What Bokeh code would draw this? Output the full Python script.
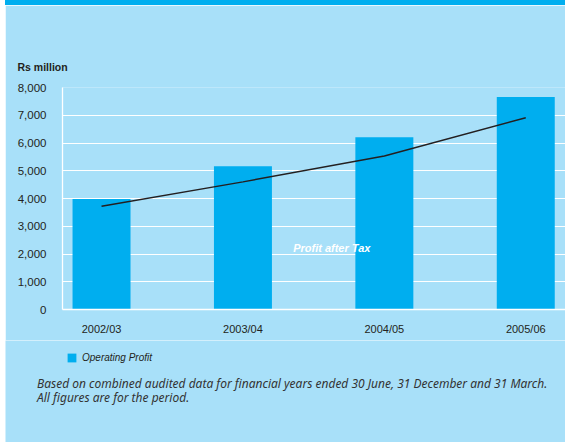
from bokeh.plotting import figure
from bokeh.models import (Range1d, FixedTicker, NumeralTickFormatter, Label,
                          Legend, LegendItem, Title, Spacer)
from bokeh.layouts import column
from bokeh.embed import file_html
from bokeh.resources import INLINE

# ---- data ----
categories = ["2002/03", "2003/04", "2004/05", "2005/06"]
operating_profit = [3980, 5160, 6210, 7660]
profit_after_tax = [3720, 4600, 5530, 6910]
y_ticks = [0, 1000, 2000, 3000, 4000, 5000, 6000, 7000, 8000]
legend_label = "Operating Profit"
line_label = "Profit after Tax"
unit_label = "Rs million"
foot1 = "Based on combined audited data for financial years ended 30 June, 31 December and 31 March."
foot2 = "All figures are for the period."

BG = "#a8e0f9"
BAR = "#00aeef"
INK = "#231f20"

xs = list(range(len(categories)))

W = 560
H1, H2 = 335, 102

# ---------------- main chart ----------------
p = figure(width=W, height=H1, output_backend="svg", toolbar_location=None,
           x_range=Range1d(-0.276, 3.281), y_range=Range1d(0, 8000),
           min_border_left=57, min_border_right=0, min_border_top=82,
           min_border_bottom=31, background_fill_color=BG,
           border_fill_color=BG, outline_line_color=None)
p.margin = (0, 0, 0, 0)
p.frame_align = False

bars = p.vbar(x=xs, top=operating_profit, width=0.41, color=BAR, line_color=None)
p.line(x=xs, y=profit_after_tax, line_color=INK, line_width=1.4)

p.xaxis.ticker = FixedTicker(ticks=xs)
p.xaxis.major_label_overrides = {i: c for i, c in zip(xs, categories)}
p.yaxis.ticker = FixedTicker(ticks=y_ticks)
p.yaxis.formatter = NumeralTickFormatter(format="0,0")
for ax in (p.xaxis, p.yaxis):
    ax.axis_line_color = "white"
    ax.axis_line_width = 1.3
    ax.major_tick_line_color = None
    ax.minor_tick_line_color = None
    ax.major_tick_out = 0
    ax.major_tick_in = 0
    ax.major_label_text_font = "Liberation Sans"
    ax.major_label_text_color = INK
p.xaxis.major_label_text_font_size = "11px"
p.yaxis.major_label_text_font_size = "11.5px"
p.xaxis.major_label_standoff = 13
p.yaxis.major_label_standoff = 16

p.xgrid.grid_line_color = None
p.ygrid.ticker = FixedTicker(ticks=y_ticks)
p.ygrid.grid_line_color = "white"
p.ygrid.grid_line_width = 1

p.add_layout(Title(text=unit_label, align="left", offset=-45, standoff=29,
                   text_font="Liberation Sans", text_font_style="bold",
                   text_font_size="10.5px", text_color=INK), "above")

p.add_layout(Label(x=1.355, y=2200, text=line_label,
                   text_font="Liberation Sans", text_font_style="bold italic",
                   text_font_size="11px", text_color="white", text_baseline="middle"))

# ---------------- legend + notes strip ----------------
q = figure(width=W, height=H2, output_backend="svg", toolbar_location=None,
           x_range=Range1d(0, W), y_range=Range1d(0, H2),
           x_axis_type=None, y_axis_type=None,
           min_border_left=0, min_border_right=0, min_border_top=0,
           min_border_bottom=0, background_fill_color=BG,
           border_fill_color=BG, outline_line_color=None)
q.margin = (0, 0, 0, 0)
q.frame_align = False
q.xgrid.grid_line_color = None
q.ygrid.grid_line_color = None

# hidden copy of the bar series, used only for the legend swatch
swatch = q.vbar(x=xs, top=operating_profit, width=0.41, color=BAR,
                line_color=None, visible=False)
legend = Legend(items=[LegendItem(label=legend_label, renderers=[swatch])],
                location=(61, 79), padding=0, margin=0, spacing=0,
                glyph_width=11, glyph_height=11, label_standoff=5, label_height=11,
                label_text_font="Liberation Sans",
                label_text_font_style="italic", label_text_font_size="10px",
                label_text_color=INK, background_fill_alpha=0,
                border_line_alpha=0, inactive_fill_alpha=0)
q.add_layout(legend)

for txt, y in ((foot1, 59.5), (foot2, 45.5)):
    q.add_layout(Label(x=31.5, y=y, text=txt, text_font="Noto Sans",
                       text_font_style="italic", text_font_size="12px",
                       text_color="#333333", text_baseline="middle"))

band = Spacer(width=W, height=5, styles={"background-color": BAR})
band.margin = (0, 0, 0, 0)
lay = column(band, p, q, spacing=0)
lay.margin = (0, 0, 0, 5)

open("out.html", "w").write(file_html(lay, INLINE))
